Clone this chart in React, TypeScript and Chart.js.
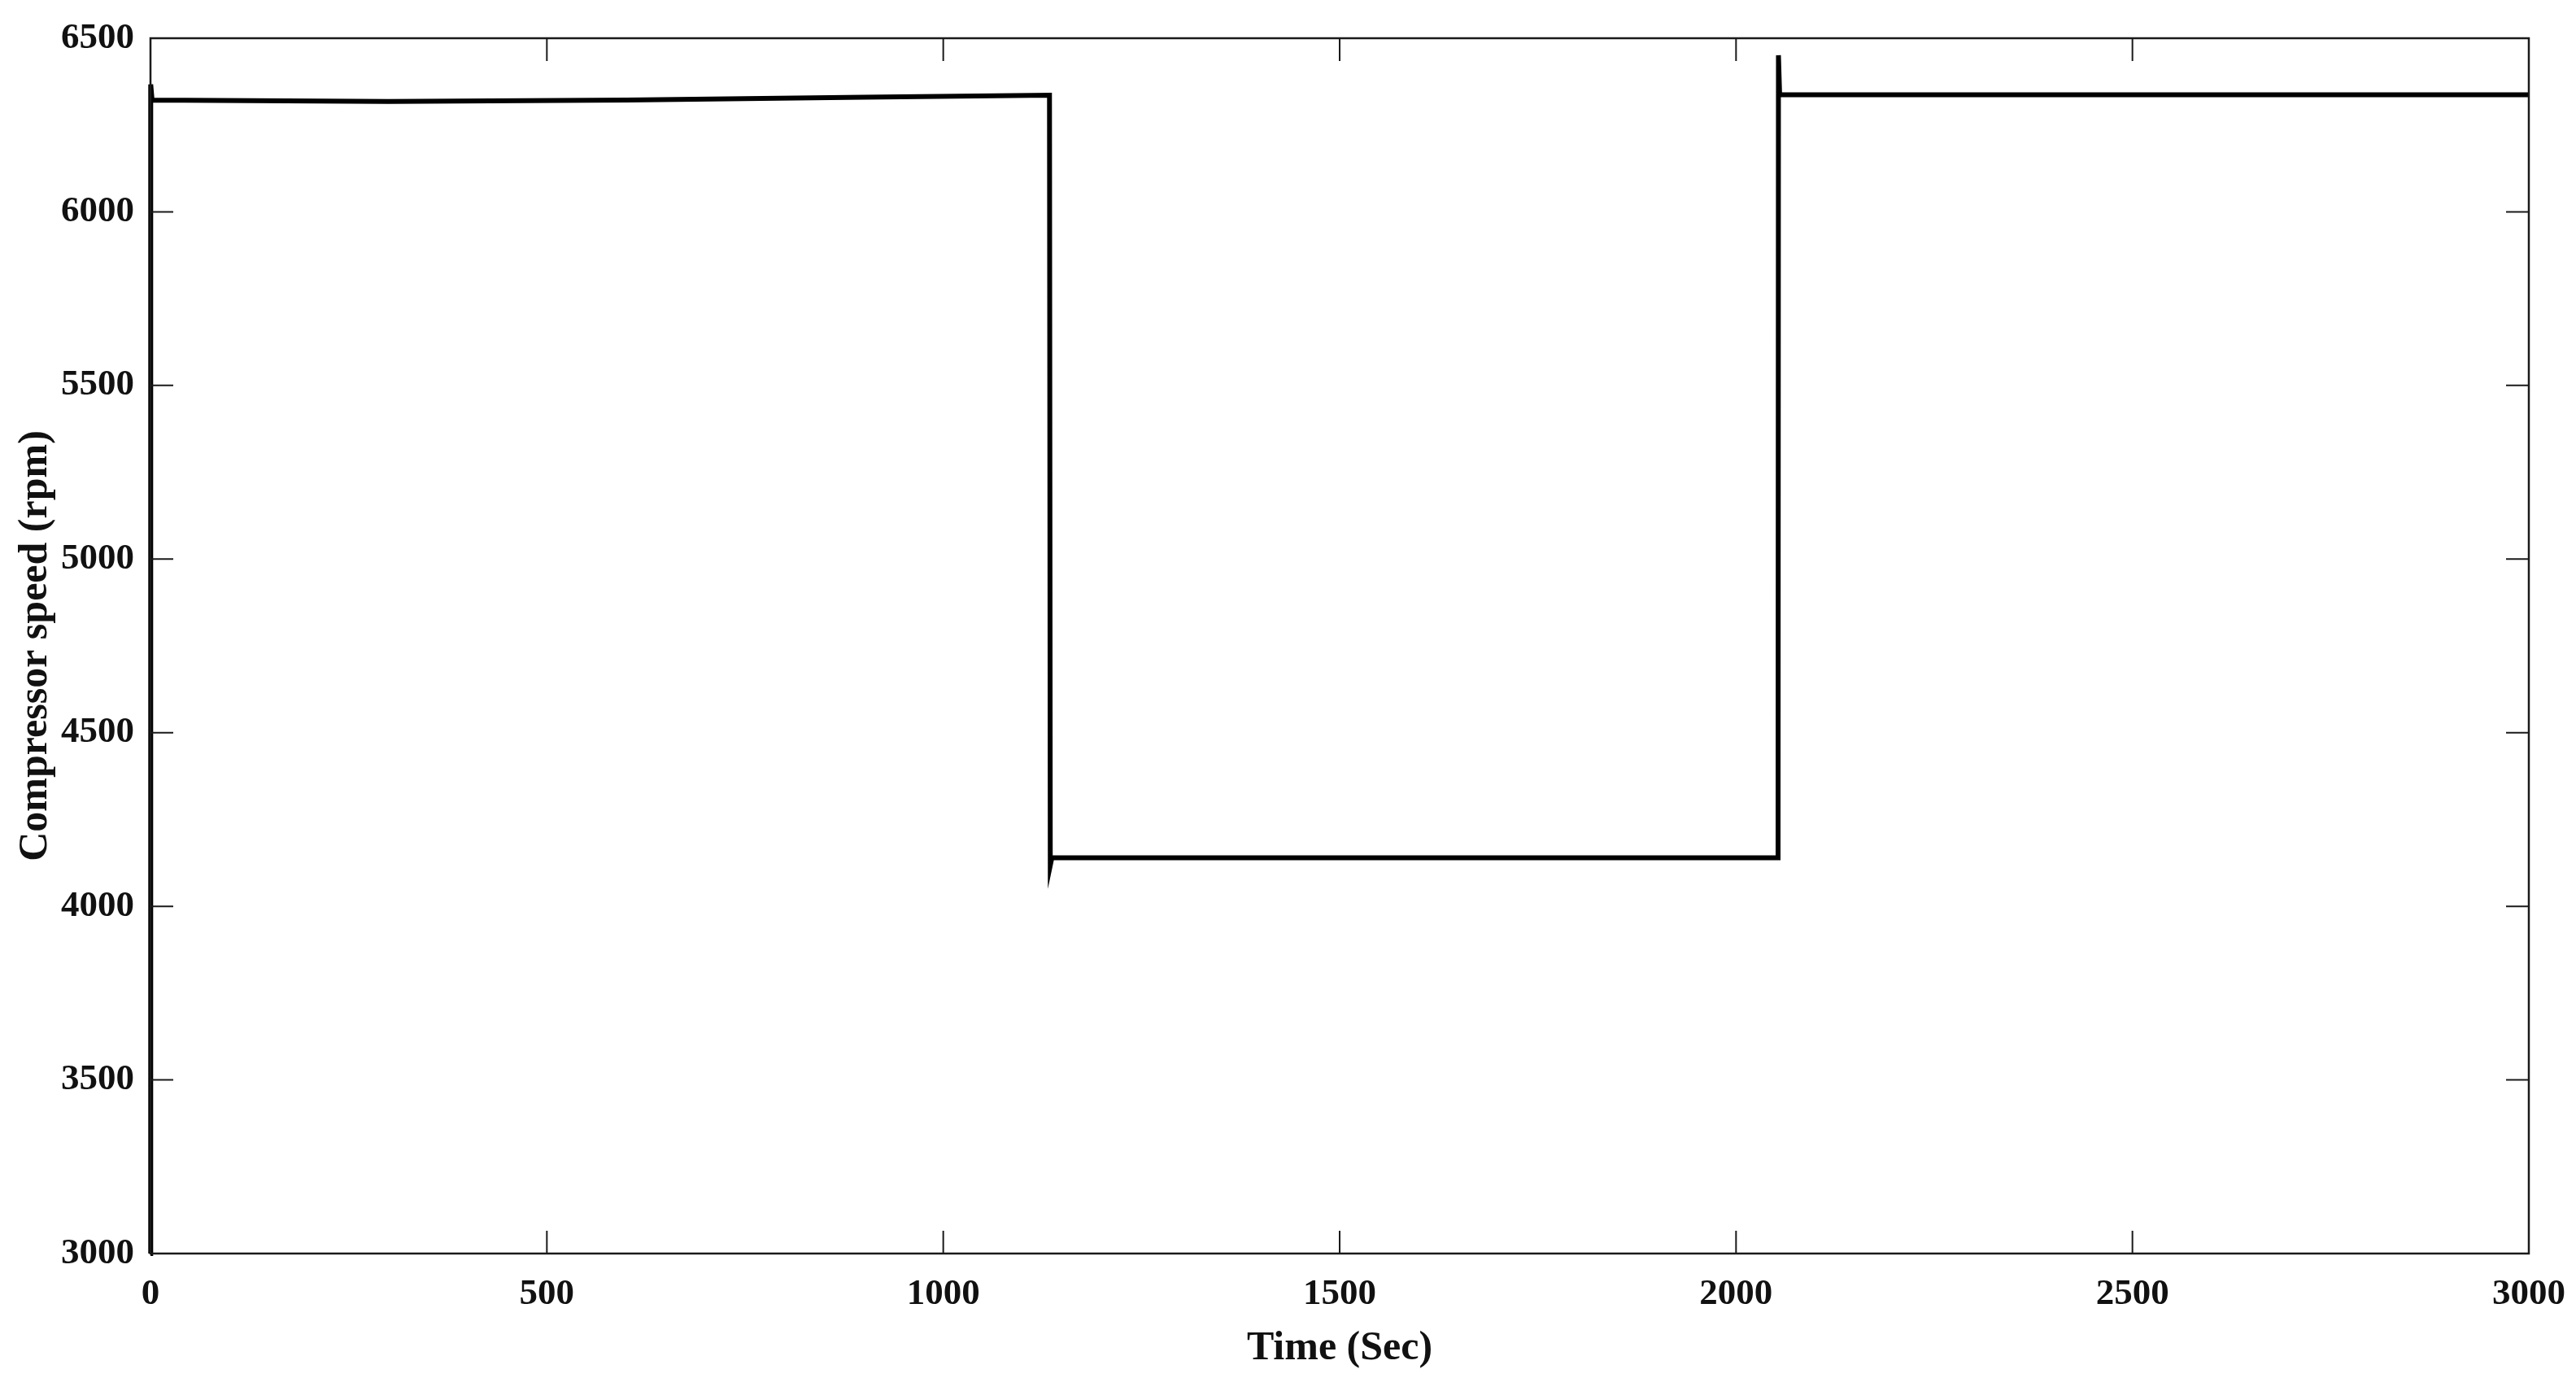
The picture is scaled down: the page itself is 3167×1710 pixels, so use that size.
import React, { useEffect, useRef } from "react";
import { Chart, registerables } from "chart.js";

Chart.register(...registerables);

// Time (s) and compressor speed (rpm)
const timeSec = [0, 0.3, 2, 300, 600, 900, 1134, 1135, 1137, 1600, 2053, 2053.5, 2055, 2500, 3000];
const speedRpm = [3000, 6367, 6322, 6318, 6322, 6330, 6336, 4118, 4140, 4140, 4140, 6451, 6337, 6337, 6337];

const xTicks = [0, 500, 1000, 1500, 2000, 2500, 3000];
const yTicks = [3000, 3500, 4000, 4500, 5000, 5500, 6000, 6500];

const FONT = "'Liberation Serif', 'Times New Roman', serif";

const frameTicks = {
  id: "frameTicks",
  afterDatasetsDraw(chart: any) {
    const { ctx, chartArea: a, scales } = chart;
    const len = 28;
    ctx.save();
    ctx.strokeStyle = "#1a1a1a";
    ctx.lineWidth = 2.5;
    ctx.strokeRect(a.left, a.top, a.right - a.left, a.bottom - a.top);
    ctx.lineWidth = 2;
    ctx.beginPath();
    for (const v of xTicks) {
      const x = scales.x.getPixelForValue(v);
      ctx.moveTo(x, a.bottom);
      ctx.lineTo(x, a.bottom - len);
      ctx.moveTo(x, a.top);
      ctx.lineTo(x, a.top + len);
    }
    for (const v of yTicks) {
      const y = scales.y.getPixelForValue(v);
      ctx.moveTo(a.left, y);
      ctx.lineTo(a.left + len, y);
      ctx.moveTo(a.right, y);
      ctx.lineTo(a.right - len, y);
    }
    ctx.stroke();
    ctx.restore();
  },
};

export default function App() {
  const ref = useRef<HTMLCanvasElement>(null);
  useEffect(() => {
    if (!ref.current) return;
    const data = timeSec.map((t, i) => ({ x: t, y: speedRpm[i] }));
    const chart = new Chart(ref.current, {
      type: "line",
      data: {
        datasets: [
          {
            data,
            borderColor: "#000",
            borderWidth: 6,
            pointRadius: 0,
            tension: 0,
            fill: false,
            clip: false as any,
          },
        ],
      },
      options: {
        animation: false,
        responsive: false,
        maintainAspectRatio: false,
        layout: { padding: { top: 47, right: 58, left: 0, bottom: 0 } },
        plugins: { legend: { display: false }, tooltip: { enabled: false } },
        scales: {
          x: {
            type: "linear",
            min: 0,
            max: 3000,
            afterBuildTicks: (s: any) => {
              s.ticks = xTicks.map((v) => ({ value: v }));
            },
            afterFit: (s: any) => {
              s.height = 169;
              s.paddingLeft = 0;
              s.paddingRight = 0;
            },
            grid: { display: false, drawTicks: false },
            border: { display: false },
            ticks: {
              padding: 23,
              color: "#111",
              font: { family: FONT, size: 45, weight: "bold" },
              maxRotation: 0,
              callback: (v: any) => String(v),
            },
            title: {
              display: true,
              text: "Time (Sec)",
              color: "#111",
              font: { family: FONT, size: 50, weight: "bold" },
              padding: { top: 0, bottom: 22 },
            },
          },
          y: {
            type: "linear",
            min: 3000,
            max: 6500,
            afterBuildTicks: (s: any) => {
              s.ticks = yTicks.map((v) => ({ value: v }));
            },
            afterFit: (s: any) => {
              s.width = 185;
              s.paddingTop = 0;
              s.paddingBottom = 0;
            },
            grid: { display: false, drawTicks: false },
            border: { display: false },
            ticks: {
              padding: 20,
              color: "#111",
              font: { family: FONT, size: 45, weight: "bold" },
              callback: (v: any) => String(v),
            },
            title: {
              display: true,
              text: "Compressor speed (rpm)",
              color: "#111",
              font: { family: FONT, size: 50, weight: "bold" },
              padding: { top: 14, bottom: 0 },
            },
          },
        },
      },
      plugins: [frameTicks],
    });
    return () => chart.destroy();
  }, []);
  return (
    <div style={{ position: "fixed", left: 0, top: 0, width: 3167, height: 1710, background: "#fff" }}>
      <canvas ref={ref} width={3167} height={1710} style={{ width: 3167, height: 1710 }} />
    </div>
  );
}
